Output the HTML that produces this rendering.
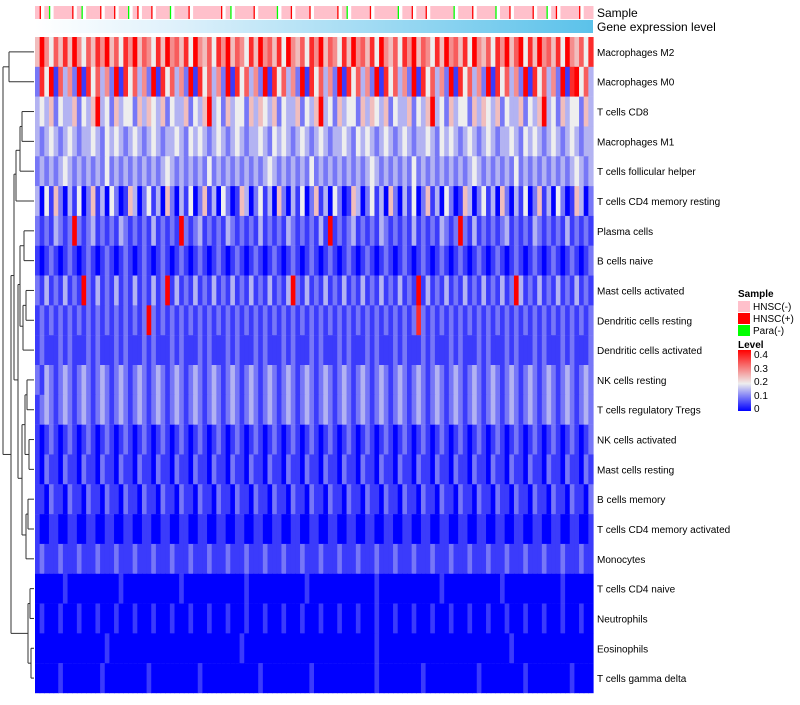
<!DOCTYPE html>
<html><head><meta charset="utf-8">
<style>
body{margin:0;background:#fff;font-family:"Liberation Sans",sans-serif;}
svg text{font-family:"Liberation Sans",sans-serif;}
</style></head>
<body>
<svg id="chart" width="800" height="700" xmlns="http://www.w3.org/2000/svg">
<defs>
<linearGradient id="geneGrad" x1="0" x2="1" y1="0" y2="0"><stop offset="0" stop-color="#ffffff"/><stop offset="0.25" stop-color="#dff1fb"/><stop offset="1" stop-color="#5bc2ea"/></linearGradient>
<linearGradient id="levelGrad" x1="0" x2="0" y1="1" y2="0"><stop offset="0" stop-color="#0000ff"/><stop offset="0.45" stop-color="#eeeeee"/><stop offset="1" stop-color="#ff0000"/></linearGradient>
</defs>
<g id="sample-bar"></g>
<rect x="35" y="20" width="558" height="13" fill="url(#geneGrad)"/>
<text x="597" y="17" font-size="12">Sample</text>
<text x="597" y="31" font-size="12">Gene expression level</text>
<g id="cells"></g>
<g id="labels"></g>
<g id="dendro" stroke="#333" stroke-width="1" fill="none"></g>
<g font-size="10">
<text x="738" y="297" font-weight="bold">Sample</text>
<rect x="738" y="301" width="12" height="11" fill="#ffc0cb"/>
<text x="753" y="310">HNSC(-)</text>
<rect x="738" y="313" width="12" height="11" fill="#ff0000"/>
<text x="753" y="322">HNSC(+)</text>
<rect x="738" y="325" width="12" height="11" fill="#00ff00"/>
<text x="753" y="334">Para(-)</text>
<text x="738" y="348" font-weight="bold">Level</text>
<rect x="738" y="350" width="13" height="61" fill="url(#levelGrad)"/>
<text x="754" y="358">0.4</text>
<text x="754" y="372">0.3</text>
<text x="754" y="385">0.2</text>
<text x="754" y="399">0.1</text>
<text x="754" y="412">0</text>
</g>
</svg>
<script>
const rowNames=["Macrophages M2","Macrophages M0","T cells CD8","Macrophages M1","T cells follicular helper","T cells CD4 memory resting","Plasma cells","B cells naive","Mast cells activated","Dendritic cells resting","Dendritic cells activated","NK cells resting","T cells regulatory  Tregs","NK cells activated","Mast cells resting","B cells memory","T cells CD4 memory activated","Monocytes","T cells CD4 naive","Neutrophils","Eosinophils","T cells gamma delta"];
// each digit d -> value d*0.045
const rowData=[
"596475859647586957486957648596758496574869576485967584965748695764859675849657486957648596758496574869579485967584965748",
"284917362918473629184736291847362918473629184736291847362918473629184736291847362918473629184736291847362918473629189473",
"343524335243593425344253543524335243593425344253543524335243593425344253543524335243593425344253543524335243593425344253",
"323432343233432434323432343233432434323432343233432434323432343233432434323432343233432434323432343233432434323432343233",
"232323432323232423232323232343232323242323232323234323232324232323232323432323232423232323232343232323242323232323234323",
"304152031402513042015302413052031402513042015302413052031402513042015302413052031402513042015302413052031402513042015302",
"212132129212312121321212131212192123121213212121312121321212131912123121213212121312121321292131212123121213212121312121",
"101210121012101210121012101210121012101210121012101210121012101210121012101210121012101210121012101210121012101210121012",
"213121312192131213121312131291312131213121312131213121392131213121312131213121312191312131213121312131293121312131213121",
"121212121212121212121212921212121212121212121212121212121212121212121212121212121282121212121212121212121212121212121212",
"121112121112121112121112121112121112121112121112121112121112121112121112121112121112121112121112121112121112121112121112",
"213212321232123212321232123212321232123212321232123212321232123212321232123212321232123212321232123212321232123212321232",
"123212321232123212321232123212321232123212321232123212321232123212321232123212321232123212321232123212321232123212321232",
"101210121012101210121012101210121012101210121012101210121012101210121012101210121012101210121012101210121012101210121012",
"102110211021102110211021102110211021102110211021102110211021102110211021102110211021102110211021102110211021102110211021",
"110211021102110211021102110211021102110211021102110211021102110211021102110211021102110211021102110211021102110211021102",
"100110011001100110011001100110011001100110011001100110011001100110011001100110011001100110011001100110011001100110011001",
"121112111211121112111211121112111211121112111211121112111211121112111211121112111211121112111211121112111211121112111211",
"000000100000000000100000000000010000000000000100000000000010000000000000010000000000000100000000000010000000000001000000",
"010001000100010001000100010001000100010001000100010001000100010001000100010001000100010001000100010001000100010001000100",
"000000000000000100000000000000000000000000001000000000000000000000000000010000000000000000000000000000100000000000000000",
"000001000000001000000000100000000001000000000000100000000001000000000000010000000001000000000001000000000100000000010000"];
// sample annotation: 0=HNSC(-),1=HNSC(+),2=Para(-)
const sampleCodes="010200001020001001002010010002000100000010200001000020010001000001020000100000200100100000200010000200100001002010000100";
const x0=35,x1=593,y0=37,y1=693;
const nCol=rowData[0].length,nRow=rowNames.length;
const cw=(x1-x0)/nCol,rh=(y1-y0)/nRow;
const xScale=i=>x0+i*cw, yScale=r=>y0+r*rh;
function colorOf(v){
 const t=Math.min(v/0.4,1), mid=0.45;
 let r,g,b;
 if(t<mid){const s=t/mid;r=Math.round(238*s);g=Math.round(238*s);b=Math.round(255-17*s);}
 else{const s=(t-mid)/(1-mid);r=Math.round(238+17*s);g=Math.round(238*(1-s));b=Math.round(238*(1-s));}
 return `rgb(${r},${g},${b})`;
}
const NS="http://www.w3.org/2000/svg";
const cells=document.getElementById('cells');
rowData.forEach((row,r)=>{
 for(let c=0;c<nCol;c++){
  const v=+row[c]*0.045;
  const el=document.createElementNS(NS,'rect');
  el.setAttribute('x',xScale(c));el.setAttribute('y',yScale(r));
  el.setAttribute('width',cw+0.6);el.setAttribute('height',rh+0.2);
  el.setAttribute('fill',colorOf(v));
  
  
  cells.appendChild(el);
 }
});
const sb=document.getElementById('sample-bar');
const sCols=["#ffc0cb","#ff0000","#00ff00"];
const sw=(x1-x0)/sampleCodes.length;
for(let i=0;i<sampleCodes.length;i++){
 const el=document.createElementNS(NS,'rect');
 el.setAttribute('x',x0+i*sw);el.setAttribute('y',6);
 el.setAttribute('width',+sampleCodes[i]?1.3:sw+0.5);el.setAttribute('height',13);
 el.setAttribute('fill',sCols[+sampleCodes[i]]);
 
 
 sb.insertBefore(el,+sampleCodes[i]?null:sb.firstChild);
}
const lab=document.getElementById('labels');
rowNames.forEach((n,r)=>{
 const t=document.createElementNS(NS,'text');
 t.setAttribute('x',597);t.setAttribute('y',yScale(r)+rh/2+4);t.setAttribute('font-size','10');
 t.textContent=n;
 
 
 lab.appendChild(t);
});
// dendrogram (structure approximated)
const d=document.getElementById('dendro');
const yc=r=>yScale(r)+rh/2;
const segs=[[9,yc(0),34,yc(0)],[9,yc(1),34,yc(1)],[9,yc(0),9,yc(1)],[3,yc(0.5),9,yc(0.5)],
[22,yc(2),34,yc(2)],[22,yc(3),34,yc(3)],[22,yc(2),22,yc(3)],[20,yc(2.5),22,yc(2.5)],[20,yc(4),34,yc(4)],[20,yc(2.5),20,yc(4)],
[16,yc(3.3),20,yc(3.3)],[16,yc(5),34,yc(5)],[16,yc(3.3),16,yc(5)],[14,yc(4.1),16,yc(4.1)],
[24,yc(6),34,yc(6)],[24,yc(7),34,yc(7)],[24,yc(6),24,yc(7)],[20,yc(6.5),24,yc(6.5)],
[26,yc(8),34,yc(8)],[26,yc(9),34,yc(9)],[26,yc(8),26,yc(9)],[23,yc(8.5),26,yc(8.5)],[23,yc(10),34,yc(10)],[23,yc(8.5),23,yc(10)],[20,yc(9.2),23,yc(9.2)],[20,yc(6.5),20,yc(9.2)],
[27,yc(11),34,yc(11)],[27,yc(12),34,yc(12)],[27,yc(11),27,yc(12)],[25,yc(11.5),27,yc(11.5)],[29,yc(13),34,yc(13)],[29,yc(14),34,yc(14)],[29,yc(13),29,yc(14)],[25,yc(13.5),29,yc(13.5)],[25,yc(11.5),25,yc(13.5)],
[28,yc(15),34,yc(15)],[28,yc(16),34,yc(16)],[28,yc(15),28,yc(16)],[26,yc(15.5),28,yc(15.5)],[26,yc(17),34,yc(17)],[26,yc(15.5),26,yc(17)],[22,yc(16.2),26,yc(16.2)],[22,yc(12.5),25,yc(12.5)],[22,yc(12.5),22,yc(16.2)],
[18,yc(14.3),22,yc(14.3)],[18,yc(7.8),20,yc(7.8)],[18,yc(7.8),18,yc(14.3)],[14,yc(11),18,yc(11)],[14,yc(4.1),14,yc(11)],
[30,yc(18),34,yc(18)],[30,yc(19),34,yc(19)],[30,yc(18),30,yc(19)],[28,yc(18.5),30,yc(18.5)],[31,yc(20),34,yc(20)],[31,yc(21),34,yc(21)],[31,yc(20),31,yc(21)],[28,yc(20.5),31,yc(20.5)],[28,yc(18.5),28,yc(20.5)],
[11,yc(19.5),28,yc(19.5)],[11,yc(7.5),14,yc(7.5)],[11,yc(7.5),11,yc(19.5)],[3,yc(13.5),11,yc(13.5)],[3,yc(0.5),3,yc(13.5)]];
segs.forEach(s=>{
 const l=document.createElementNS(NS,'line');
 l.setAttribute('x1',s[0]);l.setAttribute('y1',s[1]);l.setAttribute('x2',s[2]);l.setAttribute('y2',s[3]);
 
 
 d.appendChild(l);
});
</script>
</body></html>
